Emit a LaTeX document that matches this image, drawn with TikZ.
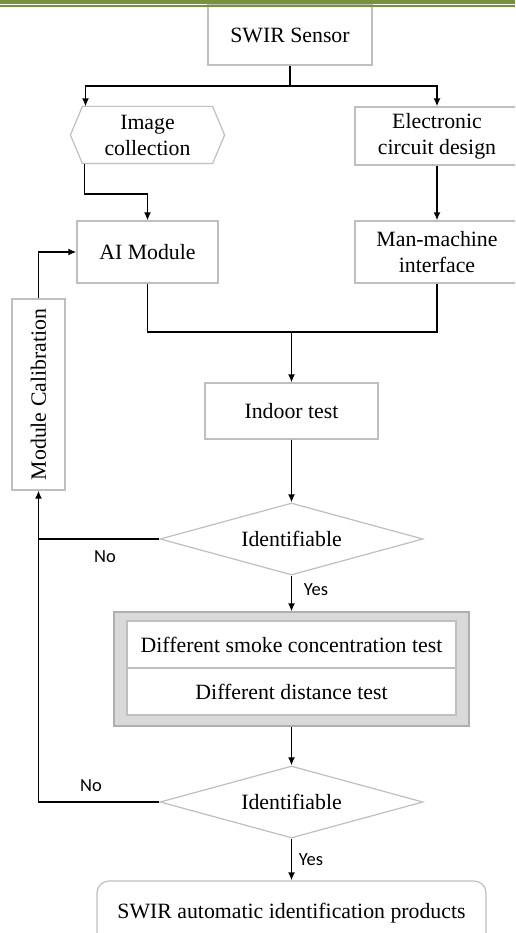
\documentclass[tikz,border=0pt]{standalone}
\usepackage{fontspec}
\usepackage{graphicx}
\setmainfont{Liberation Serif}
\newfontfamily\labelfont{Carlito}
\usetikzlibrary{shapes.geometric,arrows.meta}
\definecolor{boxgray}{RGB}{191,191,191}
\definecolor{framegray}{RGB}{217,217,217}
\definecolor{frameedge}{RGB}{175,175,175}
\definecolor{bargreen}{RGB}{118,146,60}
\tikzset{
  box/.style={draw=boxgray,line width=1.2pt,fill=white,inner sep=0pt,align=center,font=\fontsize{21.8}{26}\selectfont},
  decide/.style={box,diamond,aspect=3.6},
  conn/.style={black,line width=1.9pt},
  arr/.style={conn,-{Latex[length=8pt,width=7pt]}},
  lbl/.style={font=\labelfont\fontsize{18.5}{22}\selectfont}
}
\begin{document}
\begin{tikzpicture}[x=1pt,y=-1pt]
				\clip (0,0) rectangle (515,933);
				\fill[white] (0,0) rectangle (515,933);
				% boxes
				\node[box,minimum width=164pt,minimum height=60pt] (sensor) at (290,35) {SWIR Sensor};
				\node[box,draw=none,fill=none,minimum width=153pt,minimum height=56pt] (collect) at (147.5,135) {Image\\collection};
				\draw[boxgray,line width=1.2pt] (collect.west) -- ([xshift=12pt]collect.north west) -- ([xshift=-12pt]collect.north east) -- (collect.east) -- ([xshift=-12pt]collect.south east) -- ([xshift=12pt]collect.south west) -- cycle;
				\node[box,minimum width=164pt,minimum height=58pt] (circuit) at (437,136) {Electronic\\circuit design};
				\node[box,minimum width=141pt,minimum height=62pt] (ai) at (147.5,252) {AI Module};
				\node[box,minimum width=164pt,minimum height=62pt] (mmi) at (437,252) {Man-machine\\interface};
				\node[box,minimum width=53pt,minimum height=191pt] (calib) at (38.5,394.5) {\rotatebox{90}{Module Calibration}};
				\node[box,minimum width=173pt,minimum height=56pt] (indoor) at (291.5,411) {Indoor test};
				\node[decide,minimum width=263pt,minimum height=72pt] (ident1) at (291.5,539) {Identifiable};
				\node[draw=frameedge,line width=1.2pt,fill=framegray,minimum width=355pt,minimum height=114pt] (frame) at (291.5,669) {};
				\node[box,minimum width=329pt,minimum height=47pt] (smoke) at (291.5,644.5) {Different smoke concentration test};
				\node[box,minimum width=329pt,minimum height=47pt] (dist) at (291.5,691.5) {Different distance test};
				\node[decide,minimum width=263pt,minimum height=72pt] (ident2) at (291.5,802) {Identifiable};
				\node[box,rounded corners=12pt,minimum width=389pt,minimum height=64pt] (product) at (291.5,913) {SWIR automatic identification products};
				% connectors
				\coordinate (split) at (290,86);
				\draw[conn] (sensor.south) -- (split);
				\draw[arr] (split) -| ([xshift=-62pt]collect.north);
				\draw[arr] (split) -| (circuit.north);
				\draw[arr] ([xshift=-63pt]collect.south) -- ++(0,30) -| (ai.north);
				\draw[arr] (circuit.south) -- (mmi.north);
				\coordinate (join) at (291.5,332);
				\draw[conn] (ai.south) |- (join) -| (mmi.south);
				\draw[arr] (join) -- (indoor.north);
				\draw[arr] (indoor.south) -- (ident1.north);
				\draw[arr] (ident1.south) -- (frame.north);
				\draw[arr] (frame.south) -- (ident2.north);
				\draw[arr] (ident2.south) -- (product.north);
				\draw[conn] (ident1.west) -- (ident1.west -| calib.south);
				\draw[arr] (ident2.west) -| (calib.south);
				\draw[arr] (calib.north) |- (ai.west);
				% labels
				\node[lbl] (no1) at (105,557) {No};
				\node[lbl] (no2) at (91,786) {No};
				\node[lbl] (yes1) at (316,590) {Yes};
				\node[lbl] (yes2) at (311,860) {Yes};
				% top rule
				\fill[bargreen] (0,0) rectangle (515,4.5);
				\fill[bargreen] (0,5.5) rectangle (515,7);
			\end{tikzpicture}
\end{document}
